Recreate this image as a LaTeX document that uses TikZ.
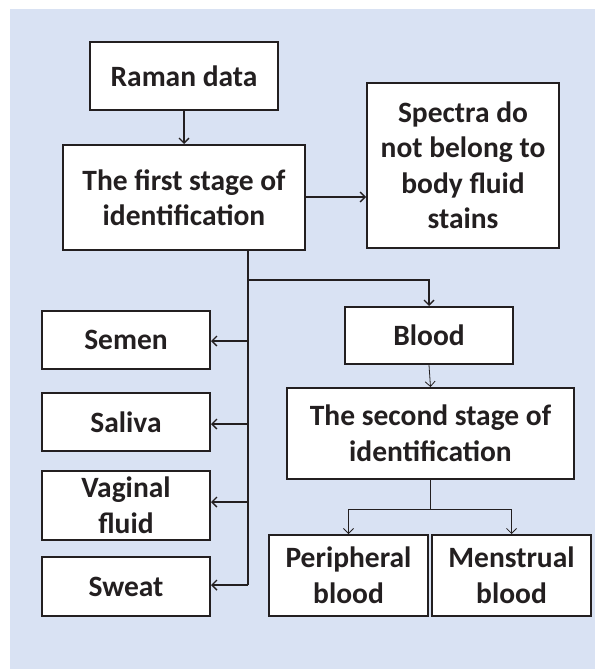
\documentclass[tikz,border=0pt]{standalone}
\usepackage{fontspec}
\setmainfont{Carlito}
\usetikzlibrary{arrows.meta,calc}
\definecolor{bgblue}{RGB}{217,226,243}
\definecolor{ink}{RGB}{35,31,32}
\tikzset{
  box/.style={draw=ink, line width=2pt, fill=white, inner sep=0pt, align=center,
    font=\fontsize{29.5}{35.5}\selectfont\bfseries, text=ink},
  link/.style={draw=ink, line width=1.4pt, -{Straight Barb[length=5pt,width=10pt]}},
  thinlink/.style={draw=ink, line width=0.8pt, -{Straight Barb[length=5pt,width=10pt]}},
  thinline/.style={draw=ink, line width=0.8pt},
  trunkline/.style={draw=ink, line width=1.4pt}
}
\begin{document}
\begin{tikzpicture}[x=1pt,y=1pt]
\useasboundingbox (0,0) rectangle (595,-669);
\fill[bgblue] (10,-9) rectangle (595,-669);
% nodes
\node[box, minimum width=188, minimum height=68] (raman) at (184,-76) {Raman data};
\node[box, minimum width=242, minimum height=105] (first) at (184,-197.5) {The first stage of\\identification};
\node[box, minimum width=192, minimum height=165] (spectra) at (463,-165.5) {Spectra do\\not belong to\\body fluid\\stains};
\node[box, minimum width=168, minimum height=57] (blood) at (429,-335.5) {Blood};
\node[box, minimum width=287, minimum height=91] (second) at (430.5,-433.5) {The second stage of\\identification};
\node[box, minimum width=168, minimum height=58] (semen) at (126,-340) {Semen};
\node[box, minimum width=168, minimum height=58] (saliva) at (126,-422) {Saliva};
\node[box, minimum width=168, minimum height=69] (vaginal) at (126,-505.5) {Vaginal\\fluid};
\node[box, minimum width=168, minimum height=59] (sweat) at (126,-586.5) {Sweat};
\node[box, minimum width=159, minimum height=81] (peripheral) at (348.5,-575.5) {Peripheral\\blood};
\node[box, minimum width=159, minimum height=81] (menstrual) at (511.5,-575.5) {Menstrual\\blood};
% helper coordinates
\coordinate (trunk) at ($(first.south)+(64,0)$);
\coordinate (branch) at ($(trunk)+(0,-29)$);
\coordinate (split) at ($(second.south)+(0,-29)$);
% connectors
\draw[link] (raman) -- (first);
\draw[link] (first.east |- 0,-197) -- (spectra.west |- 0,-197);
\draw[trunkline] (trunk) -- (trunk |- 0,-585);
\draw[link] (trunk |- 0,-341) -- (semen.east |- 0,-341);
\draw[link] (trunk |- 0,-424) -- (saliva.east |- 0,-424);
\draw[link] (trunk |- 0,-502) -- (vaginal.east |- 0,-502);
\draw[link] (trunk |- 0,-585) -- (sweat.east |- 0,-585);
\draw[link] (branch) -- (branch -| blood.north) -- (blood.north);
\draw[thinlink] (blood.south) -- (second.north);
\draw[thinline] (second.south) -- (split);
\draw[thinlink] (split) -- (split -| peripheral.north) -- (peripheral.north);
\draw[thinlink] (split) -- (split -| menstrual.north) -- (menstrual.north);
\end{tikzpicture}
\end{document}
